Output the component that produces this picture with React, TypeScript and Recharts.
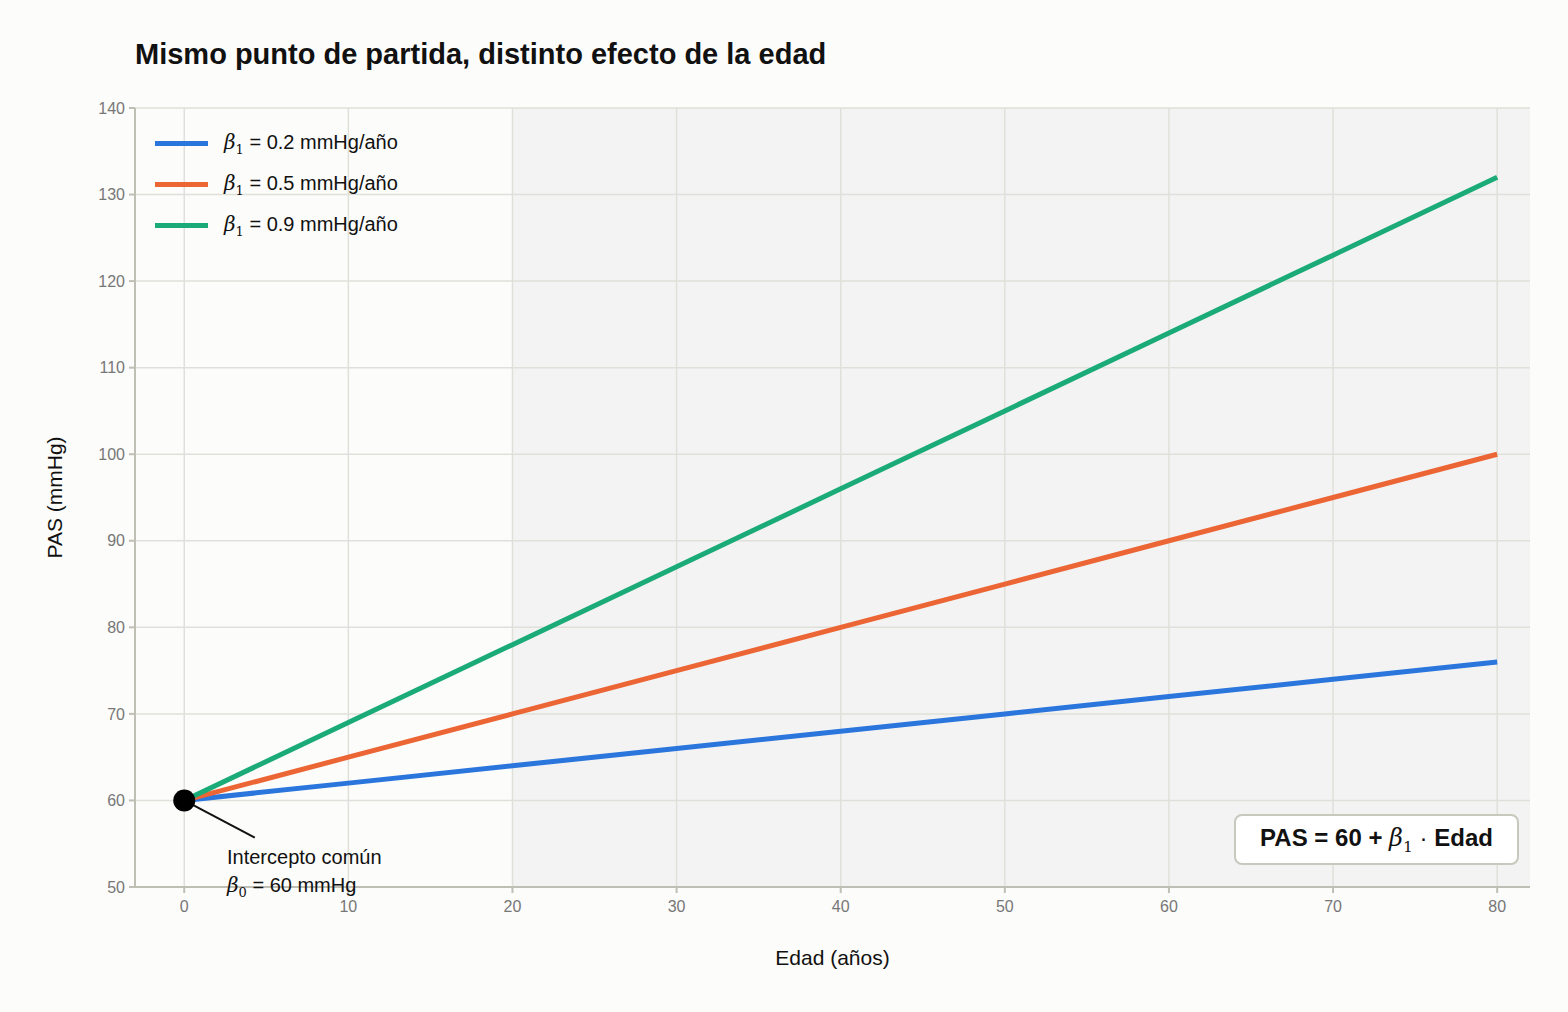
import React from "react";
import { LineChart, Line, XAxis, YAxis, ReferenceArea, ReferenceDot, ReferenceLine } from "recharts";

const ages = [0, 10, 20, 30, 40, 50, 60, 70, 80];
const slow = [60, 62, 64, 66, 68, 70, 72, 74, 76];
const mid = [60, 65, 70, 75, 80, 85, 90, 95, 100];
const fast = [60, 69, 78, 87, 96, 105, 114, 123, 132];
const yTicks = [50, 60, 70, 80, 90, 100, 110, 120, 130, 140];
const xTicks = [0, 10, 20, 30, 40, 50, 60, 70, 80];
const series = [
  { key: "slow", label: "0.2", color: "#2b76dc" },
  { key: "mid", label: "0.5", color: "#ec6535" },
  { key: "fast", label: "0.9", color: "#1aab78" },
];
const data = ages.map((a, i) => ({ age: a, slow: slow[i], mid: mid[i], fast: fast[i] }));

const font = "'Liberation Sans', Arial, sans-serif";
const Beta = ({ sub }: { sub: string }) => (
  <span style={{ fontFamily: "'DejaVu Serif', serif", fontStyle: "italic" }}>β<sub style={{ fontSize: "0.65em", fontStyle: "normal" }}>{sub}</sub></span>
);

export default function App() {
  return (
    <div style={{ position: "absolute", left: 0, top: 0, width: 1568, height: 1012, background: "#fcfcfa", fontFamily: font }}>
      <LineChart width={1568} height={1012} data={data} margin={{ top: 108, right: 38, bottom: 95, left: 75 }}>
        <ReferenceArea x1={20} x2={82} y1={50} y2={140} fill="#f3f3f4" fillOpacity={1} stroke="none" ifOverflow="hidden" />
        {xTicks.map((t) => <ReferenceLine key={"x" + t} x={t} stroke="#e0e0da" strokeWidth={1.5} />)}
        {yTicks.map((t) => <ReferenceLine key={"y" + t} y={t} stroke="#e0e0da" strokeWidth={1.5} />)}
        <XAxis dataKey="age" type="number" domain={[-3, 82]} ticks={xTicks} allowDataOverflow height={30}
          stroke="#bfbfb5" strokeWidth={2} tickLine={{ stroke: "#bfbfb5" }}
          tick={{ fill: "#777", fontSize: 16, fontFamily: font }} tickMargin={8}
          label={{ value: "Edad (años)", position: "insideBottom", offset: -48, fill: "#111", fontSize: 21, fontFamily: font }} />
        <YAxis type="number" domain={[50, 140]} ticks={yTicks} allowDataOverflow width={60}
          stroke="#bfbfb5" strokeWidth={2} tickLine={{ stroke: "#bfbfb5" }}
          tick={{ fill: "#777", fontSize: 16, fontFamily: font }} tickMargin={4}
          label={{ value: "PAS (mmHg)", angle: -90, position: "insideLeft", offset: -20, fill: "#111", fontSize: 21, fontFamily: font, style: { textAnchor: "middle" } }} />
        {series.map((s) => (
          <Line key={s.key} dataKey={s.key} stroke={s.color} strokeWidth={5} dot={false} isAnimationActive={false} type="linear" />
        ))}
        <ReferenceLine segment={[{ x: 0, y: 60 }, { x: 4.3, y: 55.7 }]} stroke="#111" strokeWidth={2} />
        <ReferenceDot x={0} y={60} r={11} fill="#000" stroke="none" />
      </LineChart>
      <div style={{ position: "absolute", left: 135, top: 38, fontSize: 29, fontWeight: "bold", color: "#111" }}>
        Mismo punto de partida, distinto efecto de la edad
      </div>
      {series.map((s, i) => (
        <div key={s.key} style={{ position: "absolute", left: 155, top: 129 + i * 41, display: "flex", alignItems: "center", fontSize: 20, color: "#111", height: 28 }}>
          <div style={{ width: 53, height: 5, background: s.color, marginRight: 16 }} />
          <span><Beta sub="1" /> = {s.label} mmHg/año</span>
        </div>
      ))}
      <div style={{ position: "absolute", left: 227, top: 843, fontSize: 20, color: "#111", lineHeight: "28px" }}>
        <div>Intercepto común</div>
        <div><Beta sub="0" /> = 60 mmHg</div>
      </div>
      <div style={{ position: "absolute", left: 1234, top: 814, width: 285, height: 51, boxSizing: "border-box", border: "2px solid #c8c8bd", borderRadius: 8, background: "#fff", display: "flex", alignItems: "center", justifyContent: "center", fontSize: 24, fontWeight: "bold", color: "#111" }}>
        <span>PAS = 60 + <span style={{ fontWeight: "normal" }}><Beta sub="1" /> ·</span> Edad</span>
      </div>
    </div>
  );
}
